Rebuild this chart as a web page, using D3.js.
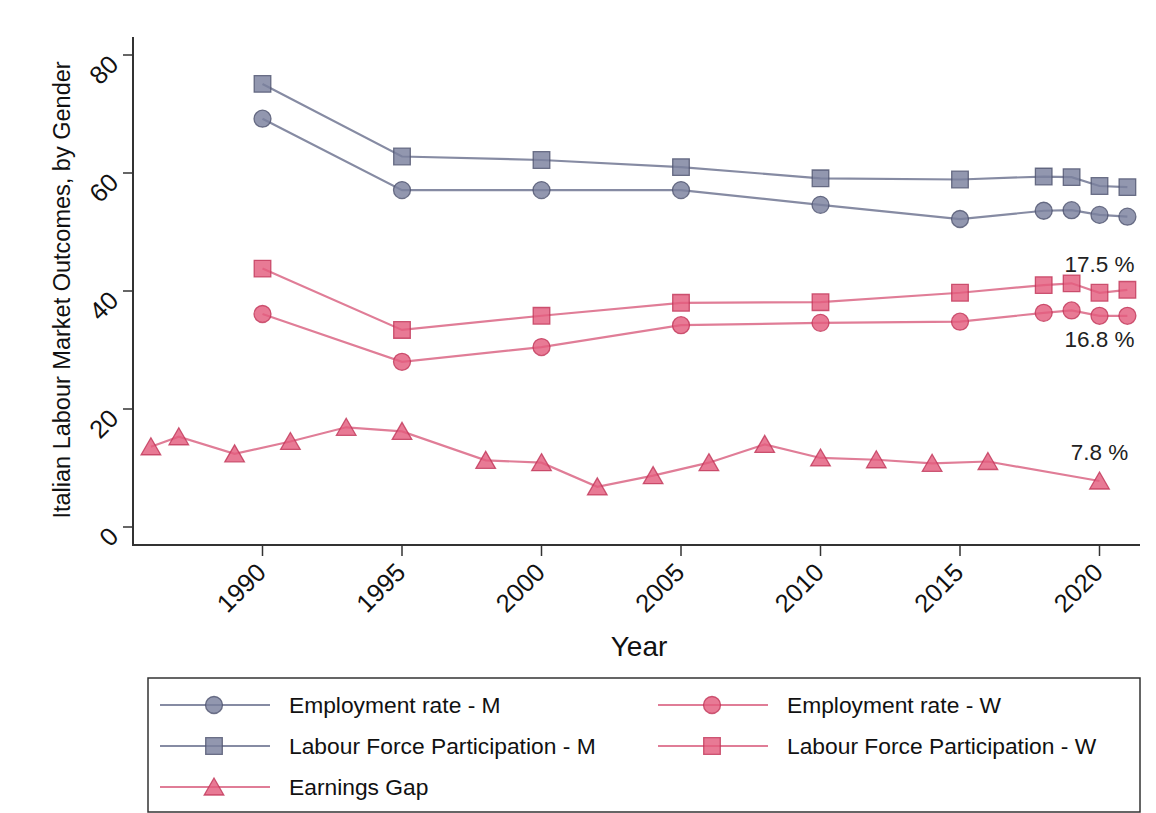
<!DOCTYPE html>
<html>
<head>
<meta charset="utf-8">
<script src="https://cdn.jsdelivr.net/npm/d3@7/dist/d3.min.js"></script>
<style>
  html, body { margin: 0; padding: 0; background: #fff; }
  svg { display: block; font-family: "Liberation Sans", Arial, Helvetica, sans-serif; }
</style>
</head>
<body>
<svg id="chart" width="1156" height="813"></svg>
<script>
// ---------------- DATA ----------------
const years = [1990, 1995, 2000, 2005, 2010, 2015, 2018, 2019, 2020, 2021];
const empM  = [69.2, 57.1, 57.1, 57.1, 54.6, 52.2, 53.6, 53.7, 52.9, 52.6];
const lfpM  = [75.1, 62.8, 62.2, 61.0, 59.1, 58.9, 59.4, 59.3, 57.8, 57.6];
const empW  = [36.1, 28.0, 30.5, 34.2, 34.6, 34.8, 36.3, 36.7, 35.8, 35.8];
const lfpW  = [43.8, 33.4, 35.8, 38.0, 38.1, 39.7, 41.0, 41.3, 39.7, 40.2];

const gapYears = [1986, 1987, 1989, 1991, 1993, 1995, 1998, 2000, 2002, 2004, 2006, 2008, 2010, 2012, 2014, 2016, 2020];
const gapVals  = [13.6, 15.3, 12.4, 14.5, 16.9, 16.2, 11.3, 10.9, 6.8, 8.7, 10.9, 14.0, 11.7, 11.4, 10.8, 11.1, 7.8];

const xTicks = [1990, 1995, 2000, 2005, 2010, 2015, 2020];
const yTicks = [0, 20, 40, 60, 80];

const yTitle = "Italian Labour Market Outcomes, by Gender";
const xTitle = "Year";

const annotations = [
  { text: "17.5 %", year: 2020, value: 39.7, where: "above" },
  { text: "16.8 %", year: 2020, value: 35.8, where: "below" },
  { text: "7.8 %",  year: 2020, value: 7.8,  where: "above" }
];

const legendLabels = [
  "Employment rate - M", "Employment rate - W",
  "Labour Force Participation - M", "Labour Force Participation - W",
  "Earnings Gap"
];

// ---------------- STYLE ----------------
const M = { line: "#868ba3", fill: "#7a809d", stroke: "#4d536e" };
const W = { line: "#e07d97", fill: "#e35d7e", stroke: "#c03558" };

const series = [
  { name: legendLabels[0], x: years, y: empM, col: M, shape: "circle" },
  { name: legendLabels[2], x: years, y: lfpM, col: M, shape: "square" },
  { name: legendLabels[1], x: years, y: empW, col: W, shape: "circle" },
  { name: legendLabels[3], x: years, y: lfpW, col: W, shape: "square" },
  { name: legendLabels[4], x: gapYears, y: gapVals, col: W, shape: "triangle" }
];

// ---------------- LAYOUT ----------------
const plot = { left: 133, right: 1140, top: 37, bottom: 545 };
const x = d3.scaleLinear().domain([1990, 2020]).range([262.5, 1099.5]);
const y = d3.scaleLinear().domain([0, 80]).range([527, 55]);

const svg = d3.select("#chart");

function markerPath(shape) {
  if (shape === "circle") return d3.symbol().type(d3.symbolCircle).size(Math.PI * 8.5 * 8.5)();
  if (shape === "square") return "M-8.3,-8.3H8.3V8.3H-8.3Z";
  return "M0,-9L9.8,8L-9.8,8Z";
}

// ---------------- LINES + MARKERS ----------------
const line = d3.line().x(d => x(d[0])).y(d => y(d[1]));
series.forEach(s => {
  const pts = s.x.map((yr, i) => [yr, s.y[i]]);
  svg.append("path")
    .attr("d", line(pts))
    .attr("fill", "none")
    .attr("stroke", s.col.line)
    .attr("stroke-width", 2.2);
});
series.forEach(s => {
  const pts = s.x.map((yr, i) => [yr, s.y[i]]);
  svg.append("g").selectAll("path").data(pts).join("path")
    .attr("d", markerPath(s.shape))
    .attr("transform", d => `translate(${x(d[0])},${y(d[1])})`)
    .attr("fill", s.col.fill)
    .attr("fill-opacity", 0.82)
    .attr("stroke", s.col.stroke)
    .attr("stroke-opacity", 0.8)
    .attr("stroke-width", 1.3);
});

// ---------------- AXES ----------------
const axisCol = "#333";
svg.append("path")
  .attr("d", `M${plot.left},${plot.top}V${plot.bottom}H${plot.right}`)
  .attr("fill", "none").attr("stroke", axisCol).attr("stroke-width", 2);

// y ticks
const yg = svg.append("g");
yTicks.forEach(t => {
  yg.append("line").attr("x1", plot.left - 10).attr("x2", plot.left)
    .attr("y1", y(t)).attr("y2", y(t)).attr("stroke", axisCol).attr("stroke-width", 1.5);
  yg.append("text")
    .attr("transform", `translate(${plot.left - 13},${y(t) + 11}) rotate(-45)`)
    .attr("text-anchor", "end")
    .attr("font-size", 25.5).attr("fill", "#111")
    .text(t);
});

// x ticks
const xg = svg.append("g");
xTicks.forEach(t => {
  xg.append("line").attr("x1", x(t)).attr("x2", x(t))
    .attr("y1", plot.bottom).attr("y2", plot.bottom + 11).attr("stroke", axisCol).attr("stroke-width", 1.5);
  xg.append("text")
    .attr("transform", `translate(${x(t) + 5},${plot.bottom + 29}) rotate(-45)`)
    .attr("text-anchor", "end")
    .attr("font-size", 25.5).attr("fill", "#111")
    .text(t);
});

// titles
svg.append("text")
  .attr("transform", `translate(70,290) rotate(-90)`)
  .attr("text-anchor", "middle")
  .attr("font-size", 23.5).attr("fill", "#111")
  .text(yTitle);

svg.append("text")
  .attr("x", 639).attr("y", 656)
  .attr("text-anchor", "middle")
  .attr("font-size", 28).attr("fill", "#111")
  .text(xTitle);

// annotations
annotations.forEach(a => {
  svg.append("text")
    .attr("x", x(a.year))
    .attr("y", y(a.value) + (a.where === "above" ? -21 : 31))
    .attr("text-anchor", "middle")
    .attr("font-size", 22.5).attr("fill", "#222")
    .text(a.text);
});

// ---------------- LEGEND ----------------
const lg = svg.append("g");
lg.append("rect")
  .attr("x", 148).attr("y", 678).attr("width", 992).attr("height", 134)
  .attr("fill", "#fff").attr("stroke", "#333").attr("stroke-width", 1.5);

const legendItems = [
  { s: series[0], col: 0, row: 0 },
  { s: series[2], col: 1, row: 0 },
  { s: series[1], col: 0, row: 1 },
  { s: series[3], col: 1, row: 1 },
  { s: series[4], col: 0, row: 2 }
];
const colX = [160, 658];
const rowY = [705, 746, 787];
legendItems.forEach(it => {
  const x0 = colX[it.col], yy = rowY[it.row];
  lg.append("line").attr("x1", x0).attr("x2", x0 + 110).attr("y1", yy).attr("y2", yy)
    .attr("stroke", it.s.col.line).attr("stroke-width", 2.2);
  lg.append("path")
    .attr("d", markerPath(it.s.shape))
    .attr("transform", `translate(${x0 + 54},${yy})`)
    .attr("fill", it.s.col.fill).attr("fill-opacity", 0.82)
    .attr("stroke", it.s.col.stroke).attr("stroke-opacity", 0.8).attr("stroke-width", 1.3);
  lg.append("text")
    .attr("x", x0 + 129).attr("y", yy + 8)
    .attr("font-size", 22.8).attr("fill", "#111")
    .text(it.s.name);
});
</script>
</body>
</html>
